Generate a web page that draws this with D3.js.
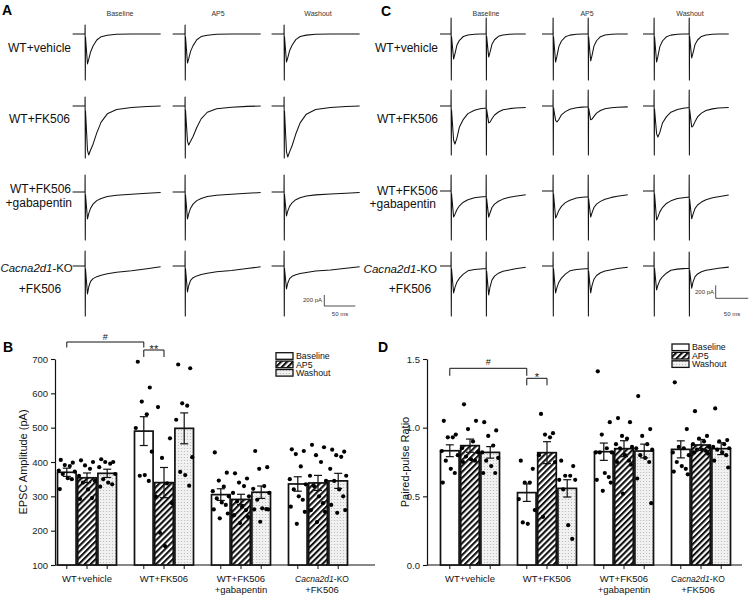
<!DOCTYPE html>
<html>
<head>
<meta charset="utf-8">
<script src="https://cdn.jsdelivr.net/npm/d3@7"></script>
<style>
  body { margin: 0; background: #fff; }
  svg { font-family: "Liberation Sans", Arial, sans-serif; }
</style>
</head>
<body>
<div id="fig"></div>
<script>
// ---------- data ----------
const conditions = ["Baseline", "AP5", "Washout"];
const groupNames = ["WT+vehicle", "WT+FK506", "WT+FK506 +gabapentin", "Cacna2d1-KO +FK506"];

// panel A: single EPSC traces (ms after stimulus, fraction of peak)
const tDecayA = [0.8, 4, 6, 9, 13, 19, 26, 36, 51, 75, 100, 122];
const shapeA = [
  [0.1, 1, 0.85, 0.6, 0.4, 0.2, 0.09, 0.04, 0.01, 0, 0, 0],
  [0.1, 0.9, 1, 0.9, 0.78, 0.55, 0.33, 0.16, 0.07, 0.03, 0.01, 0],
  [0.1, 1, 0.8, 0.6, 0.45, 0.32, 0.24, 0.17, 0.12, 0.08, 0.05, 0.02],
  [0.1, 1, 0.75, 0.55, 0.45, 0.38, 0.33, 0.28, 0.22, 0.17, 0.1, 0.03]
];
const peakA = [[545, 527, 509], [890, 710, 927], [490, 490, 436], [509, 473, 418]];   // pA
const artifactA = [[164, 836], [164, 945], [309, 873], [273, 909]];                   // up, down pA

// panel C: paired-pulse traces (second stimulus at 54 ms)
const ppInterval = 54;
const tC = [0.8, 4, 6, 9, 13, 19, 26, 36, 45, 54, 54.8, 58, 60, 63, 67, 73, 80, 90, 99, 115];
const shape1C = [
  [0.1, 1, 0.8, 0.45, 0.25, 0.1, 0.04, 0.01, 0, 0, 0, 0, 0, 0, 0, 0, 0, 0, 0, 0],
  [0.1, 0.9, 1, 0.85, 0.55, 0.35, 0.2, 0.11, 0.07, 0.05, 0.05, 0.05, 0.05, 0.04, 0.04, 0.04, 0.03, 0.03, 0.03, 0.03],
  [0.1, 1, 0.9, 0.72, 0.57, 0.43, 0.34, 0.26, 0.23, 0.21, 0.21, 0.2, 0.2, 0.19, 0.18, 0.17, 0.15, 0.13, 0.12, 0.1],
  [0.1, 1, 0.8, 0.6, 0.45, 0.3, 0.18, 0.13, 0.11, 0.09, 0.09, 0.09, 0.09, 0.08, 0.08, 0.07, 0.06, 0.05, 0.04, 0.03]
];
const shape2C = [
  [0.1, 1, 0.8, 0.45, 0.25, 0.1, 0.04, 0.01, 0, 0],
  [0.1, 1, 0.95, 0.75, 0.5, 0.3, 0.18, 0.1, 0.06, 0.03],
  [0.1, 1, 0.8, 0.55, 0.4, 0.28, 0.2, 0.14, 0.1, 0.05],
  [0.1, 1, 0.7, 0.45, 0.3, 0.2, 0.14, 0.1, 0.06, 0.02]
];
const peak1C = [[385, 431, 431], [585, 246, 477], [400, 415, 446], [415, 415, 369]];
const peak2C = [[354, 415, 369], [231, 200, 300], [323, 317, 338], [409, 378, 308]];
const artifactC = [[246, 708], [246, 754], [246, 754], [215, 769]];

// panel B: EPSC amplitude (pA)
const epscMean = [[370, 354, 367], [490, 340, 498], [305, 291, 312], [336, 339, 345]];
const epscSem = [[12, 14, 12], [42, 44, 45], [17, 15, 18], [21, 22, 22]];
const epscPoints = [
  [[406, 398, 391, 388, 375, 372, 365, 353, 350, 321],
   [405, 400, 390, 380, 360, 345, 340, 320, 295, 292],
   [408, 400, 400, 395, 385, 365, 350, 340, 335, 328]],
  [[692, 617, 576, 539, 499, 430, 360, 362, 345],
   [560, 469, 412, 338, 299, 280, 194, 155],
   [684, 673, 571, 564, 523, 414, 371, 362, 331]],
  [[428, 369, 346, 328, 315, 300, 294, 282, 275, 262, 250, 236],
   [367, 352, 340, 330, 310, 300, 285, 270, 260, 245, 240, 222],
   [432, 385, 380, 330, 322, 310, 290, 265, 263, 262, 262, 226]],
  [[437, 432, 423, 387, 350, 335, 320, 300, 290, 270, 255, 220],
   [450, 443, 420, 400, 360, 345, 330, 300, 280, 260, 255, 225],
   [436, 430, 420, 415, 380, 360, 345, 320, 300, 275, 260, 252]]
];
const epscTicks = [100, 200, 300, 400, 500, 600, 700];

// panel D: paired-pulse ratio
const pprMean = [[0.832, 0.869, 0.82], [0.527, 0.818, 0.558], [0.825, 0.847, 0.83], [0.842, 0.874, 0.847]];
const pprSem = [[0.043, 0.048, 0.042], [0.064, 0.08, 0.063], [0.063, 0.058, 0.05], [0.062, 0.04, 0.043]];
const pprPoints = [
  [[1.05, 0.95, 0.93, 0.93, 0.83, 0.80, 0.76, 0.70, 0.67, 0.60],
   [1.17, 1.05, 0.99, 0.90, 0.85, 0.82, 0.79, 0.77, 0.76, 0.75],
   [1.04, 0.98, 0.94, 0.87, 0.82, 0.78, 0.76, 0.72, 0.67, 0.67]],
  [[0.76, 0.70, 0.60, 0.60, 0.48, 0.40, 0.31, 0.30],
   [1.10, 0.96, 0.95, 0.93, 0.80, 0.75, 0.35],
   [0.76, 0.72, 0.65, 0.65, 0.62, 0.62, 0.55, 0.29, 0.19]],
  [[1.41, 1.04, 0.95, 0.85, 0.82, 0.82, 0.82, 0.67, 0.64, 0.62, 0.60, 0.54],
   [1.07, 1.04, 0.94, 0.92, 0.88, 0.86, 0.85, 0.80, 0.76, 0.75, 0.73, 0.52],
   [1.23, 0.99, 0.94, 0.88, 0.85, 0.84, 0.80, 0.78, 0.75, 0.63, 0.45]],
  [[1.33, 0.99, 0.86, 0.85, 0.82, 0.80, 0.75, 0.72, 0.70, 0.68, 0.66],
   [1.12, 0.94, 0.92, 0.90, 0.88, 0.86, 0.84, 0.84, 0.83, 0.82, 0.81],
   [1.14, 0.91, 0.90, 0.88, 0.86, 0.85, 0.84, 0.82, 0.80, 0.76, 0.71]]
];
const pprTicks = [0, 0.5, 1.0, 1.5];

// ---------- svg ----------
const svg = d3.select("#fig").append("svg")
  .attr("width", 750)
  .attr("height", 598);

const defs = svg.append("defs");
const hatch = defs.append("pattern")
  .attr("id", "hatch")
  .attr("patternUnits", "userSpaceOnUse")
  .attr("width", 4.2).attr("height", 4.2)
  .attr("patternTransform", "rotate(45)");
hatch.append("rect").attr("width", 4.2).attr("height", 4.2).attr("fill", "#fff");
hatch.append("rect").attr("width", 2.1).attr("height", 4.2).attr("fill", "#111");

const stipple = defs.append("pattern")
  .attr("id", "stipple")
  .attr("patternUnits", "userSpaceOnUse")
  .attr("width", 3).attr("height", 3);
stipple.append("rect").attr("width", 3).attr("height", 3).attr("fill", "#f1f1f1");
stipple.append("circle").attr("cx", 1.5).attr("cy", 1.5).attr("r", 0.6).attr("fill", "#b5b5b5");

const fills = ["#fff", "url(#hatch)", "url(#stipple)"];

// panel letters
const letters = [["A", 2, 15], ["C", 381, 16], ["B", 3, 352], ["D", 378, 352]];
svg.selectAll("text.letter")
  .data(letters)
  .join("text")
    .attr("class", "letter")
    .attr("x", d => d[1])
    .attr("y", d => d[2])
    .attr("font-size", 14)
    .attr("font-weight", "bold")
    .text(d => d[0]);

// row label helper (italic gene name)
function rowLabel(txt, x, y, anchor, size) {
  const t = svg.append("text")
    .attr("x", x).attr("y", y)
    .attr("text-anchor", anchor)
    .attr("font-size", size || 12)
    .attr("fill", "#111");
  if (txt.startsWith("Cacna2d1")) {
    t.append("tspan").attr("font-style", "italic").text("Cacna2d1");
    t.append("tspan").text(txt.slice(8));
  } else {
    t.text(txt);
  }
}

// ---------- trace panels ----------
const ampScaleA = d3.scaleLinear().domain([0, -200]).range([0, 11]);
const timeScaleA = d3.scaleLinear().domain([0, 50]).range([0, 31]);
const ampScaleC = d3.scaleLinear().domain([0, -200]).range([0, 13]);
const timeScaleC = d3.scaleLinear().domain([0, 50]).range([0, 32.5]);

const stimXA = [85, 185, 284], baseYA = [34, 106, 192, 266];
const stimXC = [451, 553, 654], baseYC = [34, 106, 191, 266];

const lineA = d3.line().x(d => timeScaleA(d[0])).y(d => ampScaleA(d[1]));
const lineC = d3.line().x(d => timeScaleC(d[0])).y(d => ampScaleC(d[1]));

for (let r = 0; r < 4; r++) {
  for (let c = 0; c < 3; c++) {
    // single pulse
    const [up, down] = artifactA[r];
    const ptsA = [[-20, 0], [0, 0], [0.15, up], [0.45, -down]]
      .concat(tDecayA.map((t, i) => [t, -peakA[r][c] * shapeA[r][i]]));
    svg.append("path")
      .attr("transform", `translate(${stimXA[c]},${baseYA[r]})`)
      .attr("d", lineA(ptsA))
      .attr("fill", "none")
      .attr("stroke", "#111")
      .attr("stroke-width", 1.05)
      .attr("stroke-linejoin", "round");

    // paired pulse
    const [up2, down2] = artifactC[r];
    const ptsC = [[-17, 0], [0, 0], [0.15, up2], [0.45, -down2]];
    tC.forEach((t, i) => {
      let v = -peak1C[r][c] * shape1C[r][i];
      if (i >= 10) v -= peak2C[r][c] * shape2C[r][i - 10];
      ptsC.push([t, v]);
      if (t === ppInterval) {
        ptsC.push([t + 0.15, up2]);
        ptsC.push([t + 0.45, -down2]);
      }
    });
    svg.append("path")
      .attr("transform", `translate(${stimXC[c]},${baseYC[r]})`)
      .attr("d", lineC(ptsC))
      .attr("fill", "none")
      .attr("stroke", "#111")
      .attr("stroke-width", 1.05)
      .attr("stroke-linejoin", "round");
  }
}

// column headers
const headA = [120, 218, 318], headC = [486, 587, 690];
conditions.forEach((cnd, i) => {
  [headA[i], headC[i]].forEach(x => {
    svg.append("text")
      .attr("x", x).attr("y", 16)
      .attr("text-anchor", "middle")
      .attr("font-size", 7)
      .attr("fill", "#333")
      .text(cnd);
  });
});

// row labels
rowLabel("WT+vehicle", 71, 51.5, "end");
rowLabel("WT+FK506", 70, 123, "end");
rowLabel("WT+FK506", 71, 193, "end");
rowLabel("+gabapentin", 72, 207, "end");
rowLabel("Cacna2d1-KO", 0.5, 272, "start", 11.4);
rowLabel("+FK506", 40, 293, "middle");

rowLabel("WT+vehicle", 438, 51.5, "end");
rowLabel("WT+FK506", 438, 123, "end");
rowLabel("WT+FK506", 438, 195, "end");
rowLabel("+gabapentin", 436, 208, "end");
rowLabel("Cacna2d1-KO", 437, 273, "end", 11.6);
rowLabel("+FK506", 410, 293, "middle");

// scale bars
function scaleBar(x, y, ampS, timeS, tx1, ty1, tx2, ty2) {
  svg.append("path")
    .attr("d", `M${x},${y - ampS(-200)}V${y}H${x + timeS(50)}`)
    .attr("fill", "none").attr("stroke", "#222").attr("stroke-width", 0.8);
  svg.append("text").attr("x", tx1).attr("y", ty1).attr("text-anchor", "end")
    .attr("font-size", 6).attr("fill", "#333").text("200 pA");
  svg.append("text").attr("x", tx2).attr("y", ty2).attr("text-anchor", "middle")
    .attr("font-size", 6).attr("fill", "#333").text("50 ms");
}
scaleBar(324.3, 306, ampScaleA, timeScaleA, 322, 302, 340, 316);
scaleBar(715.7, 298.3, ampScaleC, timeScaleC, 714, 294, 732, 316);

// ---------- bar panels ----------
const jitter = [-6, 6, -2, 3, -8, 8, -4, 1, 5, -7, 7, -1];

function barPanel(cfg) {
  const y = cfg.y;
  const base = y.range()[0];
  const gx = d3.scaleBand().domain(d3.range(4)).range(cfg.groupRange);
  const inner = d3.scaleBand().domain(d3.range(3)).range([9, 68]).paddingInner(0.08);
  const cx = (g, c) => gx(g) + inner(c) + inner.bandwidth() / 2;
  const g = svg.append("g");

  // y axis
  g.append("g")
    .attr("transform", `translate(${cfg.axisX},0)`)
    .call(d3.axisLeft(y).tickValues(cfg.ticks).tickFormat(cfg.fmt).tickSize(4).tickSizeOuter(0).tickPadding(3))
    .call(a => a.selectAll("text").attr("font-size", 9.5).attr("fill", "#222").attr("font-family", null))
    .call(a => a.select(".domain").attr("stroke", "#111").attr("stroke-width", 1.2))
    .call(a => a.selectAll(".tick line").attr("stroke", "#111").attr("stroke-width", 1.1));

  // x axis line + ticks at bar centres
  g.append("line")
    .attr("x1", cfg.axisX).attr("x2", cfg.axisEnd)
    .attr("y1", base).attr("y2", base)
    .attr("stroke", "#111").attr("stroke-width", 1.2);

  const cells = [];
  for (let gi = 0; gi < 4; gi++) for (let ci = 0; ci < 3; ci++) cells.push({gi, ci});

  g.selectAll("line.xt")
    .data(cells)
    .join("line")
      .attr("class", "xt")
      .attr("x1", d => cx(d.gi, d.ci)).attr("x2", d => cx(d.gi, d.ci))
      .attr("y1", base).attr("y2", base + 4)
      .attr("stroke", "#111").attr("stroke-width", 1);

  // bars
  g.selectAll("rect.bar")
    .data(cells)
    .join("rect")
      .attr("class", "bar")
      .attr("x", d => gx(d.gi) + inner(d.ci))
      .attr("y", d => y(cfg.means[d.gi][d.ci]))
      .attr("width", inner.bandwidth())
      .attr("height", d => base - y(cfg.means[d.gi][d.ci]))
      .attr("fill", d => fills[d.ci])
      .attr("stroke", "#111")
      .attr("stroke-width", 1.7);

  // points
  const pts = [];
  cells.forEach(d => cfg.points[d.gi][d.ci].forEach((v, k) => pts.push({gi: d.gi, ci: d.ci, v, k})));
  g.selectAll("circle.pt")
    .data(pts)
    .join("circle")
      .attr("class", "pt")
      .attr("cx", d => cx(d.gi, d.ci) + jitter[d.k % jitter.length])
      .attr("cy", d => y(d.v))
      .attr("r", 2.1)
      .attr("fill", "#000");

  // SEM error bars
  const eb = g.selectAll("g.eb")
    .data(cells)
    .join("g")
      .attr("class", "eb")
      .attr("stroke", "#111")
      .attr("stroke-width", 1.2);
  eb.append("line")
    .attr("x1", d => cx(d.gi, d.ci)).attr("x2", d => cx(d.gi, d.ci))
    .attr("y1", d => y(cfg.means[d.gi][d.ci] - cfg.sems[d.gi][d.ci]))
    .attr("y2", d => y(cfg.means[d.gi][d.ci] + cfg.sems[d.gi][d.ci]));
  [-1, 1].forEach(s => {
    eb.append("line")
      .attr("x1", d => cx(d.gi, d.ci) - 4).attr("x2", d => cx(d.gi, d.ci) + 4)
      .attr("y1", d => y(cfg.means[d.gi][d.ci] + s * cfg.sems[d.gi][d.ci]))
      .attr("y2", d => y(cfg.means[d.gi][d.ci] + s * cfg.sems[d.gi][d.ci]));
  });

  // group labels
  groupNames.forEach((name, gi) => {
    const lines = name.split(" ");
    const xm = cx(gi, 1) + (cfg.labelShift[gi] || 0);
    lines.forEach((ln, li) => {
      const t = g.append("text")
        .attr("x", xm).attr("y", 582 + li * 10.5)
        .attr("text-anchor", "middle")
        .attr("fill", "#111")
        .attr("font-size", ln.startsWith("Cacna2d1") ? 8.5 : 9.5);
      if (ln.startsWith("Cacna2d1")) {
        t.append("tspan").attr("font-style", "italic").text("Cacna2d1");
        t.append("tspan").text(ln.slice(8));
      } else t.text(ln);
    });
  });

  // y label
  g.append("text")
    .attr("transform", `translate(${cfg.labelX},462) rotate(-90)`)
    .attr("text-anchor", "middle")
    .attr("font-size", 11)
    .attr("fill", "#111")
    .text(cfg.title);

  // legend
  conditions.forEach((cnd, i) => {
    g.append("rect")
      .attr("x", cfg.legend[0]).attr("y", cfg.legend[1] + i * 8.4 - 3.3)
      .attr("width", 17).attr("height", 6.6)
      .attr("fill", fills[i]).attr("stroke", "#111").attr("stroke-width", 1.3);
    g.append("text")
      .attr("x", cfg.legend[0] + 20).attr("y", cfg.legend[1] + i * 8.4 + 3.1)
      .attr("font-size", 8.8).attr("fill", "#111")
      .text(cnd);
  });

  // significance brackets
  cfg.brackets.forEach(b => {
    const x1 = cx(b.from[0], b.from[1]), x2 = cx(b.to[0], b.to[1]);
    g.append("path")
      .attr("d", `M${x1},${b.y + b.leg}V${b.y}H${x2}V${b.y + b.leg}`)
      .attr("fill", "none").attr("stroke", "#111").attr("stroke-width", 1);
    g.append("text")
      .attr("x", (x1 + x2) / 2).attr("y", b.ty)
      .attr("text-anchor", "middle")
      .attr("font-size", b.size)
      .attr("fill", "#111")
      .text(b.mark);
  });
}

barPanel({
  y: d3.scaleLinear().domain([100, 700]).range([565, 359]),
  ticks: epscTicks,
  fmt: d3.format("d"),
  means: epscMean, sems: epscSem, points: epscPoints,
  groupRange: [48.5, 356.5],
  axisX: 55, axisEnd: 375,
  labelX: 27, title: "EPSC Amplitude (pA)",
  labelShift: [0, 0, 0, 4],
  legend: [276, 356],
  brackets: [
    {from: [0, 0], to: [1, 0], y: 342, leg: 5.5, mark: "#", ty: 339.5, size: 9},
    {from: [1, 0], to: [1, 1], y: 350, leg: 7, mark: "**", ty: 353, size: 11}
  ]
});

barPanel({
  y: d3.scaleLinear().domain([0, 1.5]).range([565, 359]),
  ticks: pprTicks,
  fmt: d3.format(".1f"),
  means: pprMean, sems: pprSem, points: pprPoints,
  groupRange: [431.5, 739.5],
  axisX: 427, axisEnd: 742,
  labelX: 409, title: "Paired-pulse Ratio",
  labelShift: [0, 0, 0, -3],
  legend: [672, 347.3],
  brackets: [
    {from: [0, 0], to: [1, 0], y: 368.3, leg: 7.5, mark: "#", ty: 365, size: 9},
    {from: [1, 0], to: [1, 1], y: 378.3, leg: 7, mark: "*", ty: 381, size: 11}
  ]
});
</script>
</body>
</html>
